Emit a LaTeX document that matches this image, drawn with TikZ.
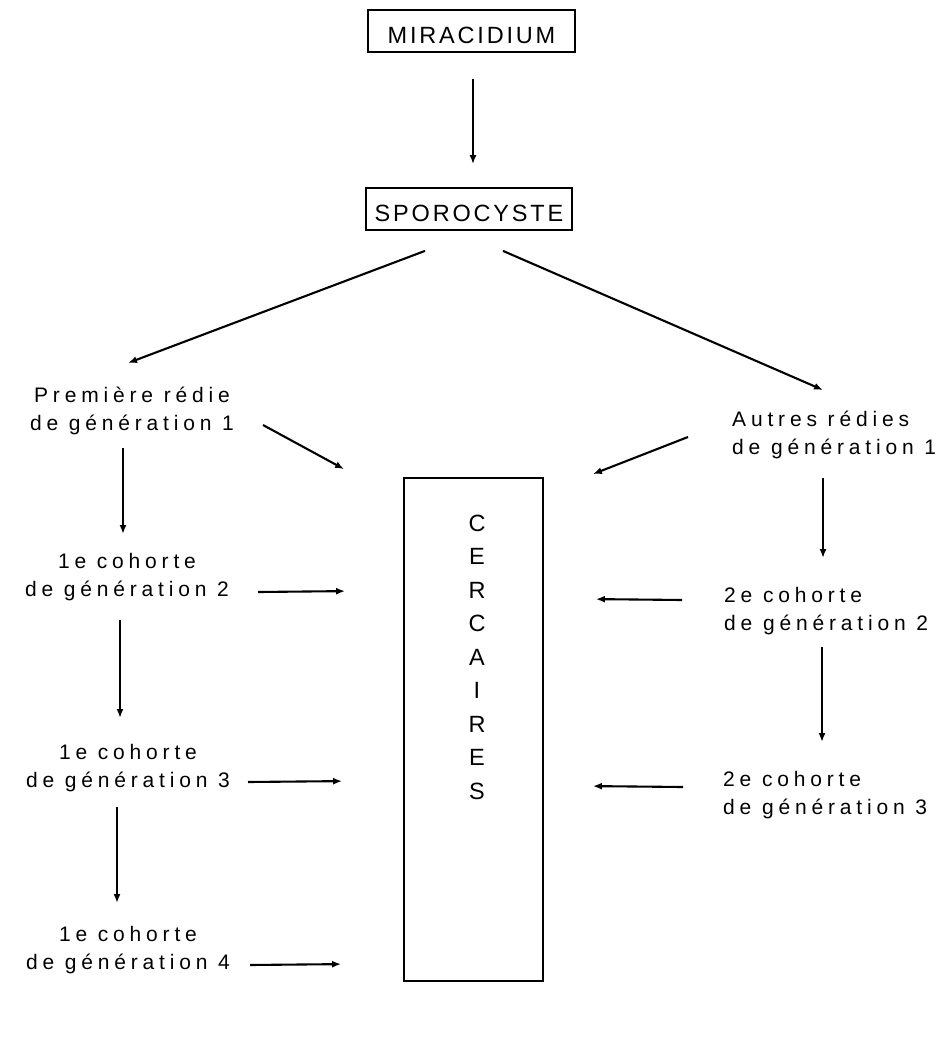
\documentclass[tikz,border=0pt]{standalone}
\usepackage{fontspec}
\setmainfont{Liberation Sans}
\newfontfamily\labfont[LetterSpace=23]{Liberation Sans}
\newfontfamily\capfont[LetterSpace=12]{Liberation Sans}
\usetikzlibrary{arrows.meta}

\begin{document}
\begin{tikzpicture}[x=1pt,y=-1pt,
  arr/.style={-{Latex[length=9pt,width=7pt]}, line width=2.1pt},
  titlebox/.style={draw, line width=1.8pt, inner sep=0pt,
    minimum width=207pt, minimum height=42pt,
    font=\capfont\fontsize{23.5}{26}\selectfont, text height=26pt, text depth=0pt},
  labc/.style={inner sep=0pt, align=center, anchor=base,
    font=\labfont\fontsize{21}{28}\selectfont},
  labl/.style={inner sep=0pt, align=left, anchor=base west,
    font=\labfont\fontsize{21}{28}\selectfont},
  tallbox/.style={draw, line width=1.8pt, inner sep=0pt,
    minimum width=139pt, minimum height=503pt},
  letters/.style={inner sep=0pt, align=center, anchor=base,
    font=\fontsize{23.5}{33.5}\selectfont}
]
\useasboundingbox (0,0) rectangle (943,1048);

% top of the cycle
\node[titlebox] (mir) at (471.5,31) {MIRACIDIUM};
\node[titlebox, minimum width=206pt] (spo) at (469,209) {SPOROCYSTE};

% the cercariae column (multi-line nodes sit on their last baseline)
\node[tallbox] (cerc) at (473.5,729.5) {};
\node[letters] (cercl) at (477,799) {C\\E\\R\\C\\A\\I\\R\\E\\S};

% left branch: first redia and its cohorts
\node[labc] (L1) at (132,430) {Première rédie\\de génération 1};
\node[labc] (L2) at (127,596) {1e cohorte\\de génération 2};
\node[labc] (L3) at (128,787) {1e cohorte\\de génération 3};
\node[labc] (L4) at (128,969) {1e cohorte\\de génération 4};

% right branch: other rediae and their cohorts
\node[labl] (R1) at (732,454) {Autres rédies\\de génération 1};
\node[labl] (R2) at (724,630) {2e cohorte\\de génération 2};
\node[labl] (R3) at (723,814) {2e cohorte\\de génération 3};

% connectors
\draw[arr] ([shift={(1.5,26)}]mir.south) -- ([shift={(4,-23)}]spo.north);
\draw[arr] ([shift={(-44,20)}]spo.south) -- ([shift={(-4,-67)}]L1.base);
\draw[arr] ([shift={(34,20)}]spo.south) -- ([shift={(91,-64)}]R1.base west);

\draw[arr] ([shift={(131,-5)}]L1.base) -- ([shift={(-59,-8)}]cerc.north west);
\draw[arr] ([shift={(-44,-17)}]R1.base west) -- ([shift={(49,-3)}]cerc.north east);

\draw[arr] ([shift={(-9,18)}]L1.base) -- ([shift={(-4,-62)}]L2.base);
\draw[arr] ([shift={(131,-4)}]L2.base) -- ([shift={(-58,114)}]cerc.north west);
\draw[arr] ([shift={(-7,24)}]L2.base) -- ([shift={(-8,-69)}]L3.base);
\draw[arr] ([shift={(120,-5)}]L3.base) -- ([shift={(-61,304)}]cerc.north west);
\draw[arr] ([shift={(-11,20)}]L3.base) -- ([shift={(-11,-66)}]L4.base);
\draw[arr] ([shift={(122,-4)}]L4.base) -- ([shift={(-62,487)}]cerc.north west);

\draw[arr] ([shift={(91,24)}]R1.base west) -- ([shift={(99,-72)}]R2.base west);
\draw[arr] ([shift={(-42,-30)}]R2.base west) -- ([shift={(52,122)}]cerc.north east);
\draw[arr] ([shift={(98,17)}]R2.base west) -- ([shift={(99,-72)}]R3.base west);
\draw[arr] ([shift={(-40,-27)}]R3.base west) -- ([shift={(49,309)}]cerc.north east);
\end{tikzpicture}
\end{document}
